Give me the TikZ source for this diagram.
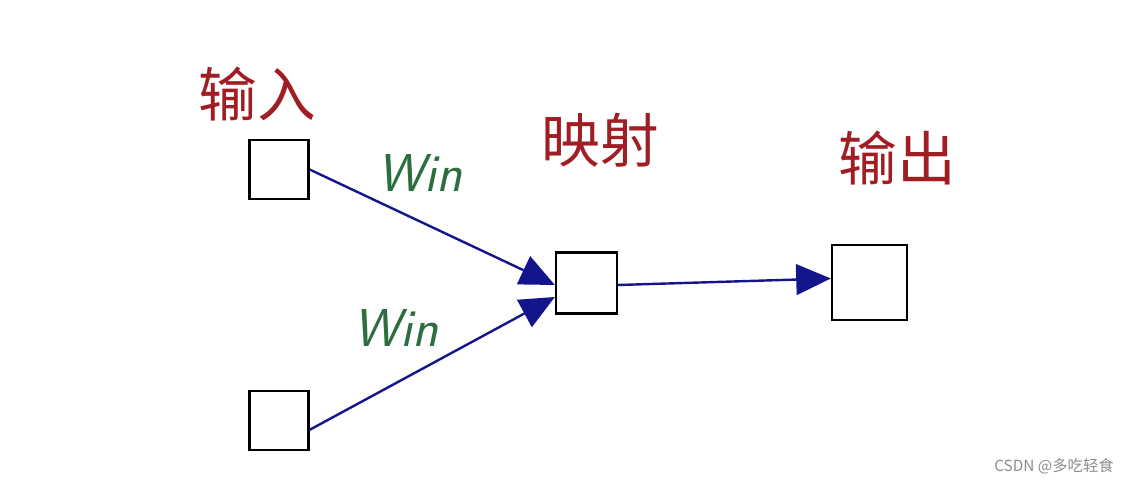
\documentclass[tikz,border=0pt]{standalone}
\usepackage{fontspec}
\newfontfamily\cjk{Noto Sans CJK SC}
\newfontfamily\wm{Noto Sans CJK SC}
\usetikzlibrary{arrows.meta}
\definecolor{hred}{RGB}{160,30,35}
\definecolor{hgreen}{RGB}{45,110,65}
\definecolor{navy}{RGB}{20,20,140}
\definecolor{wmgray}{RGB}{140,140,140}
\tikzset{
  box/.style={draw=black, line width=1.7pt, fill=white, minimum width=#1*0.75pt, minimum height=#1*0.75pt, inner sep=0pt},
  conn/.style={draw=navy, line width=1.8pt, -{Triangle[length=26pt,width=23pt]}},
  redlbl/.style={text=hred, inner sep=0pt, font=\cjk\fontsize{44}{50}\selectfont},
  greenlbl/.style={text=hgreen, inner sep=0pt, font=\sffamily\itshape\fontsize{40}{46}\selectfont},
}
\begin{document}
\begin{tikzpicture}[x=0.75pt,y=-0.75pt]
\useasboundingbox[fill=white] (0,0) rectangle (1138,484);
\node[box=59] (in1) at (279,169.5) {};
\node[box=59] (in2) at (279,420.5) {};
\node[box=61] (mid) at (586.5,283) {};
\node[box=75] (out) at (869.5,282.5) {};
\coordinate (m1) at ([yshift=-1.5pt]mid.west);
\coordinate (m2) at ([yshift=-10.5pt]mid.west);
\coordinate (o1) at ([yshift=3pt]out.west);
\coordinate (s1) at ([yshift=0pt]in1.east);
\coordinate (s2) at ([yshift=-7pt]in2.east);
\coordinate (mr) at ([yshift=-1.5pt]mid.east);
\draw[conn] (s1) -- (m1);
\draw[conn] (s2) -- (m2);
\draw[conn] (mr) -- (o1);
\node[redlbl] (lin) at (257,94) {输入};
\node[redlbl] (lmap) at (600,140) {映射};
\node[redlbl] (lout) at (897,158) {输出};
\node[greenlbl] (w1) at (420,173) {Win};
\node[greenlbl] (w2) at (396,328) {Win};
\node[text=wmgray, font=\wm\fontsize{11.5}{13}\selectfont] (wm) at (1054,466) {CSDN @多吃轻食};
\end{tikzpicture}
\end{document}
